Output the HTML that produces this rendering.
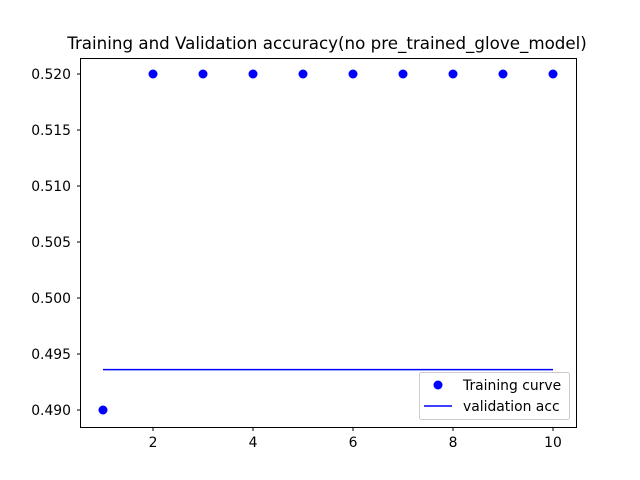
<!DOCTYPE html>
<html><head><meta charset="utf-8"><style>body{margin:0;background:#fff}svg{display:block}text{font-family:"DejaVu Sans","Liberation Sans",sans-serif}</style></head>
<body>
<svg id="chart" width="640" height="480">
<rect width="640" height="480" fill="#fff"/>
<text x="327" y="49" font-size="16.7" text-anchor="middle">Training and Validation accuracy(no pre_trained_glove_model)</text>
<g id="marks"></g>
<rect x="80.5" y="58.5" width="496" height="369" fill="none" stroke="#000" stroke-width="1"/>
<g id="ticks"></g>
<g>
<rect x="419.5" y="372.5" width="150" height="47" rx="2" fill="#fff" fill-opacity="0.8" stroke="#ccc"/>
<circle cx="438" cy="385" r="4.5" fill="#0000ff"/>
<text x="463" y="390" font-size="13.9">Training curve</text>
<line x1="424" y1="406" x2="452" y2="406" stroke="#0000ff" stroke-width="1.5"/>
<text x="463" y="411" font-size="13.9">validation acc</text>
</g>
</svg>
<script>
const epochs=[1,2,3,4,5,6,7,8,9,10];
const trainAcc=[0.49,0.52,0.52,0.52,0.52,0.52,0.52,0.52,0.52,0.52];
const valAcc=[0.4936,0.4936,0.4936,0.4936,0.4936,0.4936,0.4936,0.4936,0.4936,0.4936];
const xTicks=[2,4,6,8,10];
const yTicks=["0.490","0.495","0.500","0.505","0.510","0.515","0.520"];
const NS="http://www.w3.org/2000/svg";
const xs=v=>103+(v-1)*50;
const ys=v=>410-(v-0.49)*11200;
const marks=document.getElementById('marks'),ticks=document.getElementById('ticks');
function mk(t,a,p){const e=document.createElementNS(NS,t);for(const k in a)e.setAttribute(k,a[k]);p.appendChild(e);return e;}
const pl=mk('polyline',{points:epochs.map((e,i)=>xs(e)+','+ys(valAcc[i])).join(' '),fill:'none',stroke:'#0000ff','stroke-width':1.5},marks);


epochs.forEach((e,i)=>{const c=mk('circle',{cx:xs(e),cy:ys(trainAcc[i]),r:4.5,fill:'#0000ff'},marks);

});
xTicks.forEach(v=>{const x=xs(v);mk('line',{x1:x,y1:427.5,x2:x,y2:431,stroke:'#000'},ticks);
const t=mk('text',{x:x,y:447,'font-size':13.9,'text-anchor':'middle'},ticks);t.textContent=v;

});
yTicks.forEach(v=>{const y=ys(parseFloat(v));mk('line',{x1:77,y1:y,x2:80.5,y2:y,stroke:'#000'},ticks);
const t=mk('text',{x:71,y:y+5,'font-size':13.9,'text-anchor':'end'},ticks);t.textContent=v;

});
</script>
</body></html>
